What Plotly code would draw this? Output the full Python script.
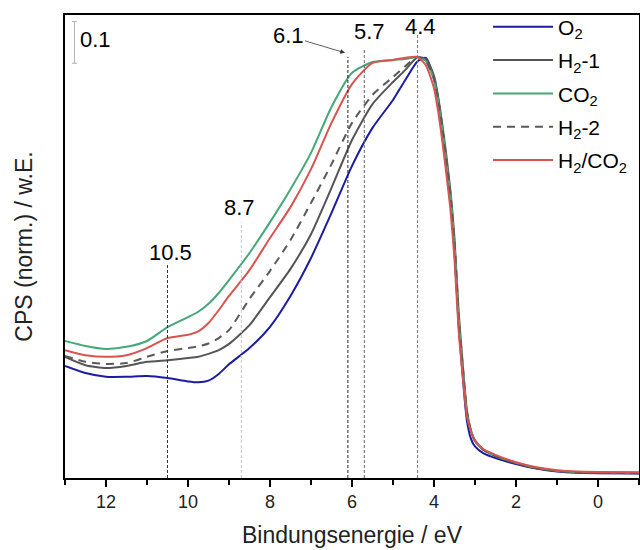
import plotly.graph_objects as go

# ---------------- data ----------------
x_left = [13.0, 12.5, 12.0, 11.5, 11.0, 10.5, 10.0, 9.75, 9.5, 9.25, 9.0, 8.5, 8.0, 7.5, 7.0, 6.5, 6.0, 5.5, 5.0, 4.7, 4.4]
x_tail = [4.2, 4.0, 3.9, 3.8, 3.7, 3.6, 3.5, 3.4, 3.3, 3.2, 3.1, 3.0, 2.8, 2.5, 2.0, 1.5, 1.0, 0.5, 0.0, -1.0]

o2_left = [0.259, 0.242, 0.233, 0.233, 0.235, 0.230, 0.222, 0.220, 0.224, 0.240, 0.263, 0.302, 0.353, 0.427, 0.518, 0.626, 0.739, 0.830, 0.897, 0.945, 0.990]
o2_tail = [0.998, 0.950, 0.900, 0.830, 0.745, 0.655, 0.535, 0.360, 0.235, 0.130, 0.085, 0.066, 0.050, 0.038, 0.024, 0.013, 0.006, 0.003, 0.002, 0.001]

h2a_left = [0.281, 0.261, 0.254, 0.259, 0.269, 0.273, 0.278, 0.281, 0.288, 0.297, 0.312, 0.357, 0.424, 0.492, 0.575, 0.686, 0.801, 0.887, 0.940, 0.969, 1.000]
h2a_tail = [0.995, 0.955, 0.905, 0.840, 0.765, 0.680, 0.565, 0.390, 0.265, 0.155, 0.105, 0.080, 0.058, 0.043, 0.026, 0.014, 0.007, 0.004, 0.003, 0.002]

co2_left = [0.319, 0.307, 0.300, 0.305, 0.319, 0.352, 0.376, 0.389, 0.408, 0.434, 0.465, 0.530, 0.604, 0.683, 0.770, 0.880, 0.962, 0.988, 0.993, 0.995, 1.000]
co2_tail = [0.990, 0.945, 0.895, 0.830, 0.752, 0.670, 0.555, 0.380, 0.258, 0.150, 0.104, 0.080, 0.059, 0.044, 0.027, 0.015, 0.008, 0.005, 0.004, 0.003]

h2b_left = [0.283, 0.269, 0.264, 0.266, 0.281, 0.295, 0.302, 0.306, 0.313, 0.326, 0.345, 0.420, 0.487, 0.561, 0.650, 0.743, 0.842, 0.909, 0.952, 0.978, 1.000]
h2b_tail = [0.990, 0.948, 0.898, 0.832, 0.755, 0.670, 0.555, 0.380, 0.258, 0.150, 0.103, 0.079, 0.058, 0.043, 0.026, 0.014, 0.007, 0.004, 0.003, 0.002]

h2co2_left = [0.297, 0.285, 0.281, 0.285, 0.302, 0.326, 0.334, 0.342, 0.362, 0.393, 0.427, 0.489, 0.566, 0.640, 0.731, 0.842, 0.935, 0.986, 0.993, 0.998, 1.000]
h2co2_tail = [0.980, 0.925, 0.870, 0.800, 0.720, 0.635, 0.515, 0.345, 0.235, 0.140, 0.102, 0.080, 0.060, 0.046, 0.028, 0.016, 0.009, 0.006, 0.005, 0.004]

series_names = ["O<sub>2</sub>", "H<sub>2</sub>-1", "CO<sub>2</sub>", "H<sub>2</sub>-2", "H<sub>2</sub>/CO<sub>2</sub>"]
series_left = [o2_left, h2a_left, co2_left, h2b_left, h2co2_left]
series_tail = [o2_tail, h2a_tail, co2_tail, h2b_tail, h2co2_tail]
series_colors = ["#1c1ca0", "#555555", "#45a878", "#5a5a5a", "#d9534f"]
series_dash = ["solid", "solid", "solid", "dash", "solid"]

marker_energies = [10.5, 8.7, 6.1, 5.7, 4.4]
marker_labels = ["10.5", "8.7", "6.1", "5.7", "4.4"]

FONT = "Liberation Sans, Arial, sans-serif"

fig = go.Figure()
for i, (name, yl, yt, col, dash) in enumerate(zip(series_names, series_left, series_tail, series_colors, series_dash)):
    fig.add_trace(go.Scatter(
        x=x_left + x_tail, y=yl + yt, mode="lines", name=name, legendgroup="g%d" % i,
        line=dict(color=col, width=2, dash=("8px,6px" if dash == "dash" else "solid"),
                  shape="spline", smoothing=0.6),
    ))

# vertical dotted marker lines
line_tops = [0.501, 0.604, 1.0, 1.017, 1.053]
line_cols = ["#333333", "#c8c8c8", "#222222", "#666666", "#777777"]
shapes = []
for xe, top, c in zip(marker_energies, line_tops, line_cols):
    shapes.append(dict(type="line", xref="x", yref="y", x0=xe, x1=xe, y0=-0.0096, y1=top,
                       line=dict(color=c, width=1, dash="3px,2px")))
# 0.1 scale bar
shapes += [
    dict(type="line", xref="x", yref="y", x0=12.77, x1=12.77, y0=0.985, y1=1.085, line=dict(color="#b0b0b0", width=1)),
    dict(type="line", xref="x", yref="y", x0=12.83, x1=12.71, y0=0.985, y1=0.985, line=dict(color="#b0b0b0", width=1)),
    dict(type="line", xref="x", yref="y", x0=12.83, x1=12.71, y0=1.085, y1=1.085, line=dict(color="#b0b0b0", width=1)),
]

lab_font = dict(family=FONT, size=22, color="black")
annotations = [
    dict(x=10.43, y=0.532, text=marker_labels[0], showarrow=False, font=lab_font),
    dict(x=8.75, y=0.640, text=marker_labels[1], showarrow=False, font=lab_font),
    dict(x=6.17, y=1.01, text=marker_labels[2], showarrow=True, ax=-57, ay=-17,
         arrowhead=2, arrowsize=1.2, arrowwidth=0.8, arrowcolor="#333333", font=lab_font),
    dict(x=5.565, y=1.06, text=marker_labels[3], showarrow=False, font=lab_font),
    dict(x=4.33, y=1.072, text=marker_labels[4], showarrow=False, font=lab_font),
    dict(x=12.68, y=1.041, text="0.1", showarrow=False, xanchor="left", yanchor="middle", font=lab_font),
]

fig.update_layout(
    width=640, height=550,
    margin=dict(l=65, r=1, t=15, b=72, autoexpand=False),
    paper_bgcolor="white", plot_bgcolor="white",
    font=dict(family=FONT, color="black"),
    shapes=shapes, annotations=annotations,
    showlegend=True,
    legend=dict(x=0.737, y=1.018, xanchor="left", yanchor="top", bgcolor="rgba(0,0,0,0)",
                tracegroupgap=3, font=dict(family=FONT, size=21, color="black"), itemwidth=60),
    xaxis=dict(range=[13, -1], tickvals=[12, 10, 8, 6, 4, 2, 0], ticks="outside", ticklen=7, tickwidth=1.5,
               tickcolor="black", tickfont=dict(family=FONT, size=18, color="#222"),
               minor=dict(ticks="outside", ticklen=5, tickwidth=1.5, tickcolor="black", tickvals=[13, 11, 9, 7, 5, 3, 1, -1]),
               showline=True, linecolor="black", linewidth=1.5, mirror=True, showgrid=False, zeroline=False,
               automargin=True,
               title=dict(text="Bindungsenergie / eV", font=dict(family=FONT, size=23, color="#222"), standoff=16)),
    yaxis=dict(range=[-0.0096, 1.1007], showticklabels=False, ticks="", showline=True, linecolor="black",
               linewidth=1.5, mirror=True, showgrid=False, zeroline=False, automargin=False,
               title=dict(text="CPS (norm.) / w.E.", font=dict(family=FONT, size=23, color="#222"), standoff=24)),
)

fig.write_html("out.html", config={"displayModeBar": False},
               post_script="document.body.style.margin='0';")
